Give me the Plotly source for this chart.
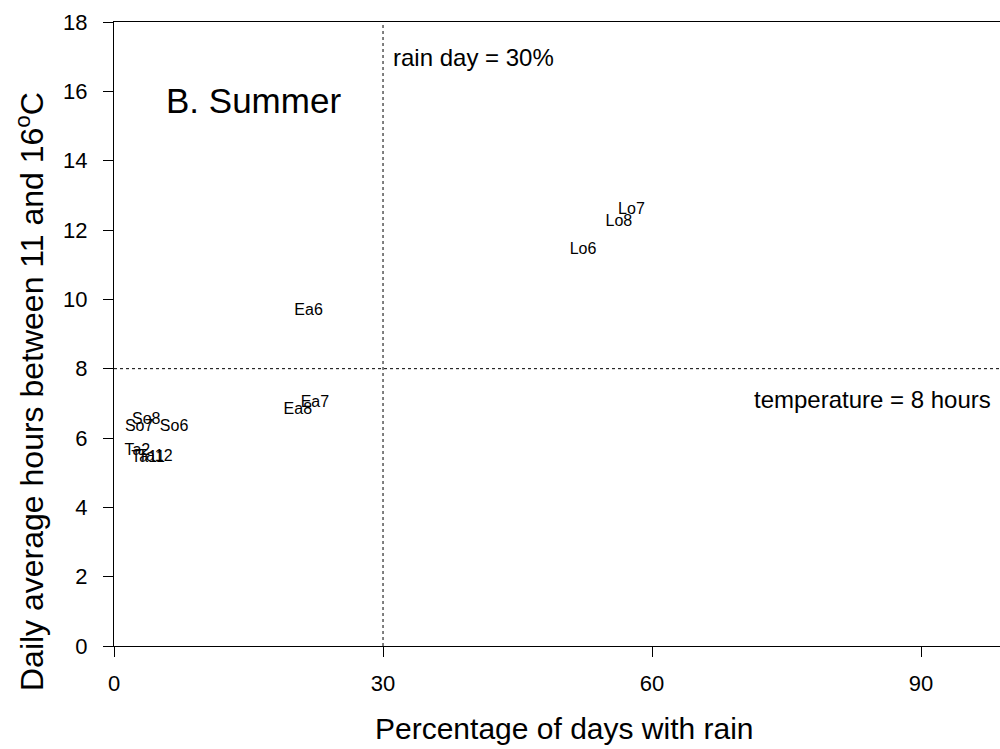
import plotly.graph_objects as go

labels = ["Lo7", "Lo8", "Lo6", "Ea6", "Ea7", "Ea8", "So8", "So7", "So6", "Ta2", "Ta11", "Ta12"]
rain_pct = [57.7, 56.3, 52.3, 21.7, 22.4, 20.5, 3.6, 2.8, 6.7, 2.6, 3.8, 4.6]
hours = [12.58, 12.23, 11.42, 9.66, 7.0, 6.8, 6.52, 6.32, 6.32, 5.62, 5.42, 5.45]

x_ticks = [0, 30, 60, 90]
y_ticks = [0, 2, 4, 6, 8, 10, 12, 14, 16, 18]
rain_threshold = 30
temp_threshold = 8

font = "Liberation Sans, Arial, sans-serif"

fig = go.Figure()
fig.add_trace(go.Scatter(
    x=rain_pct, y=hours, mode="text", text=labels,
    textposition="middle center",
    textfont=dict(family=font, size=16, color="black"),
    showlegend=False, hoverinfo="skip",
))

fig.add_shape(type="line", x0=rain_threshold, x1=rain_threshold, y0=0, y1=18,
              xref="x", yref="y", line=dict(color="black", width=1, dash="dot"))
fig.add_shape(type="line", x0=0, x1=1, y0=temp_threshold, y1=temp_threshold,
              xref="paper", yref="y", line=dict(color="black", width=1, dash="dot"))

fig.add_annotation(x=30.9, y=16.97, xref="x", yref="y", text="rain day = 30%",
                   showarrow=False, xanchor="left", yanchor="middle",
                   font=dict(family=font, size=24, color="black"))
fig.add_annotation(x=98.0, y=7.1, xref="x", yref="y", text="temperature = 8 hours",
                   showarrow=False, xanchor="right", yanchor="middle",
                   font=dict(family=font, size=24, color="black"))
fig.add_annotation(x=5.6, y=15.75, xref="x", yref="y", text="B. Summer",
                   showarrow=False, xanchor="left", yanchor="middle",
                   font=dict(family=font, size=35, color="black"))

# axis titles
fig.add_annotation(x=0.508, y=0, xref="paper", yref="paper", yshift=-101,
                   text="Percentage of days with rain", showarrow=False,
                   xanchor="center", yanchor="bottom",
                   font=dict(family=font, size=30, color="black"))
fig.add_annotation(x=0, y=(646 - 392) / 624, xref="paper", yref="paper", xshift=-84,
                   text="Daily average hours between 11 and 16<sup>o</sup>C", showarrow=False,
                   textangle=-90, xanchor="center", yanchor="middle",
                   font=dict(family=font, size=32, color="black"))

fig.update_layout(
    width=1000, height=749,
    margin=dict(l=114, r=0, t=22, b=103),
    paper_bgcolor="white", plot_bgcolor="white",
    font=dict(family=font, color="black"),
    xaxis=dict(range=[0, 98.8], tickvals=x_ticks, showgrid=False, zeroline=False,
               showline=True, linecolor="black", linewidth=1, mirror=True,
               ticks="outside", ticklen=10, tickcolor="black", ticklabelstandoff=8,
               tickfont=dict(size=22)),
    yaxis=dict(range=[0, 18], tickvals=y_ticks, showgrid=False, zeroline=False,
               showline=True, linecolor="black", linewidth=1,
               ticks="outside", ticklen=10, tickcolor="black", ticklabelstandoff=11,
               tickfont=dict(size=22)),
)

fig.write_html("out.html")
